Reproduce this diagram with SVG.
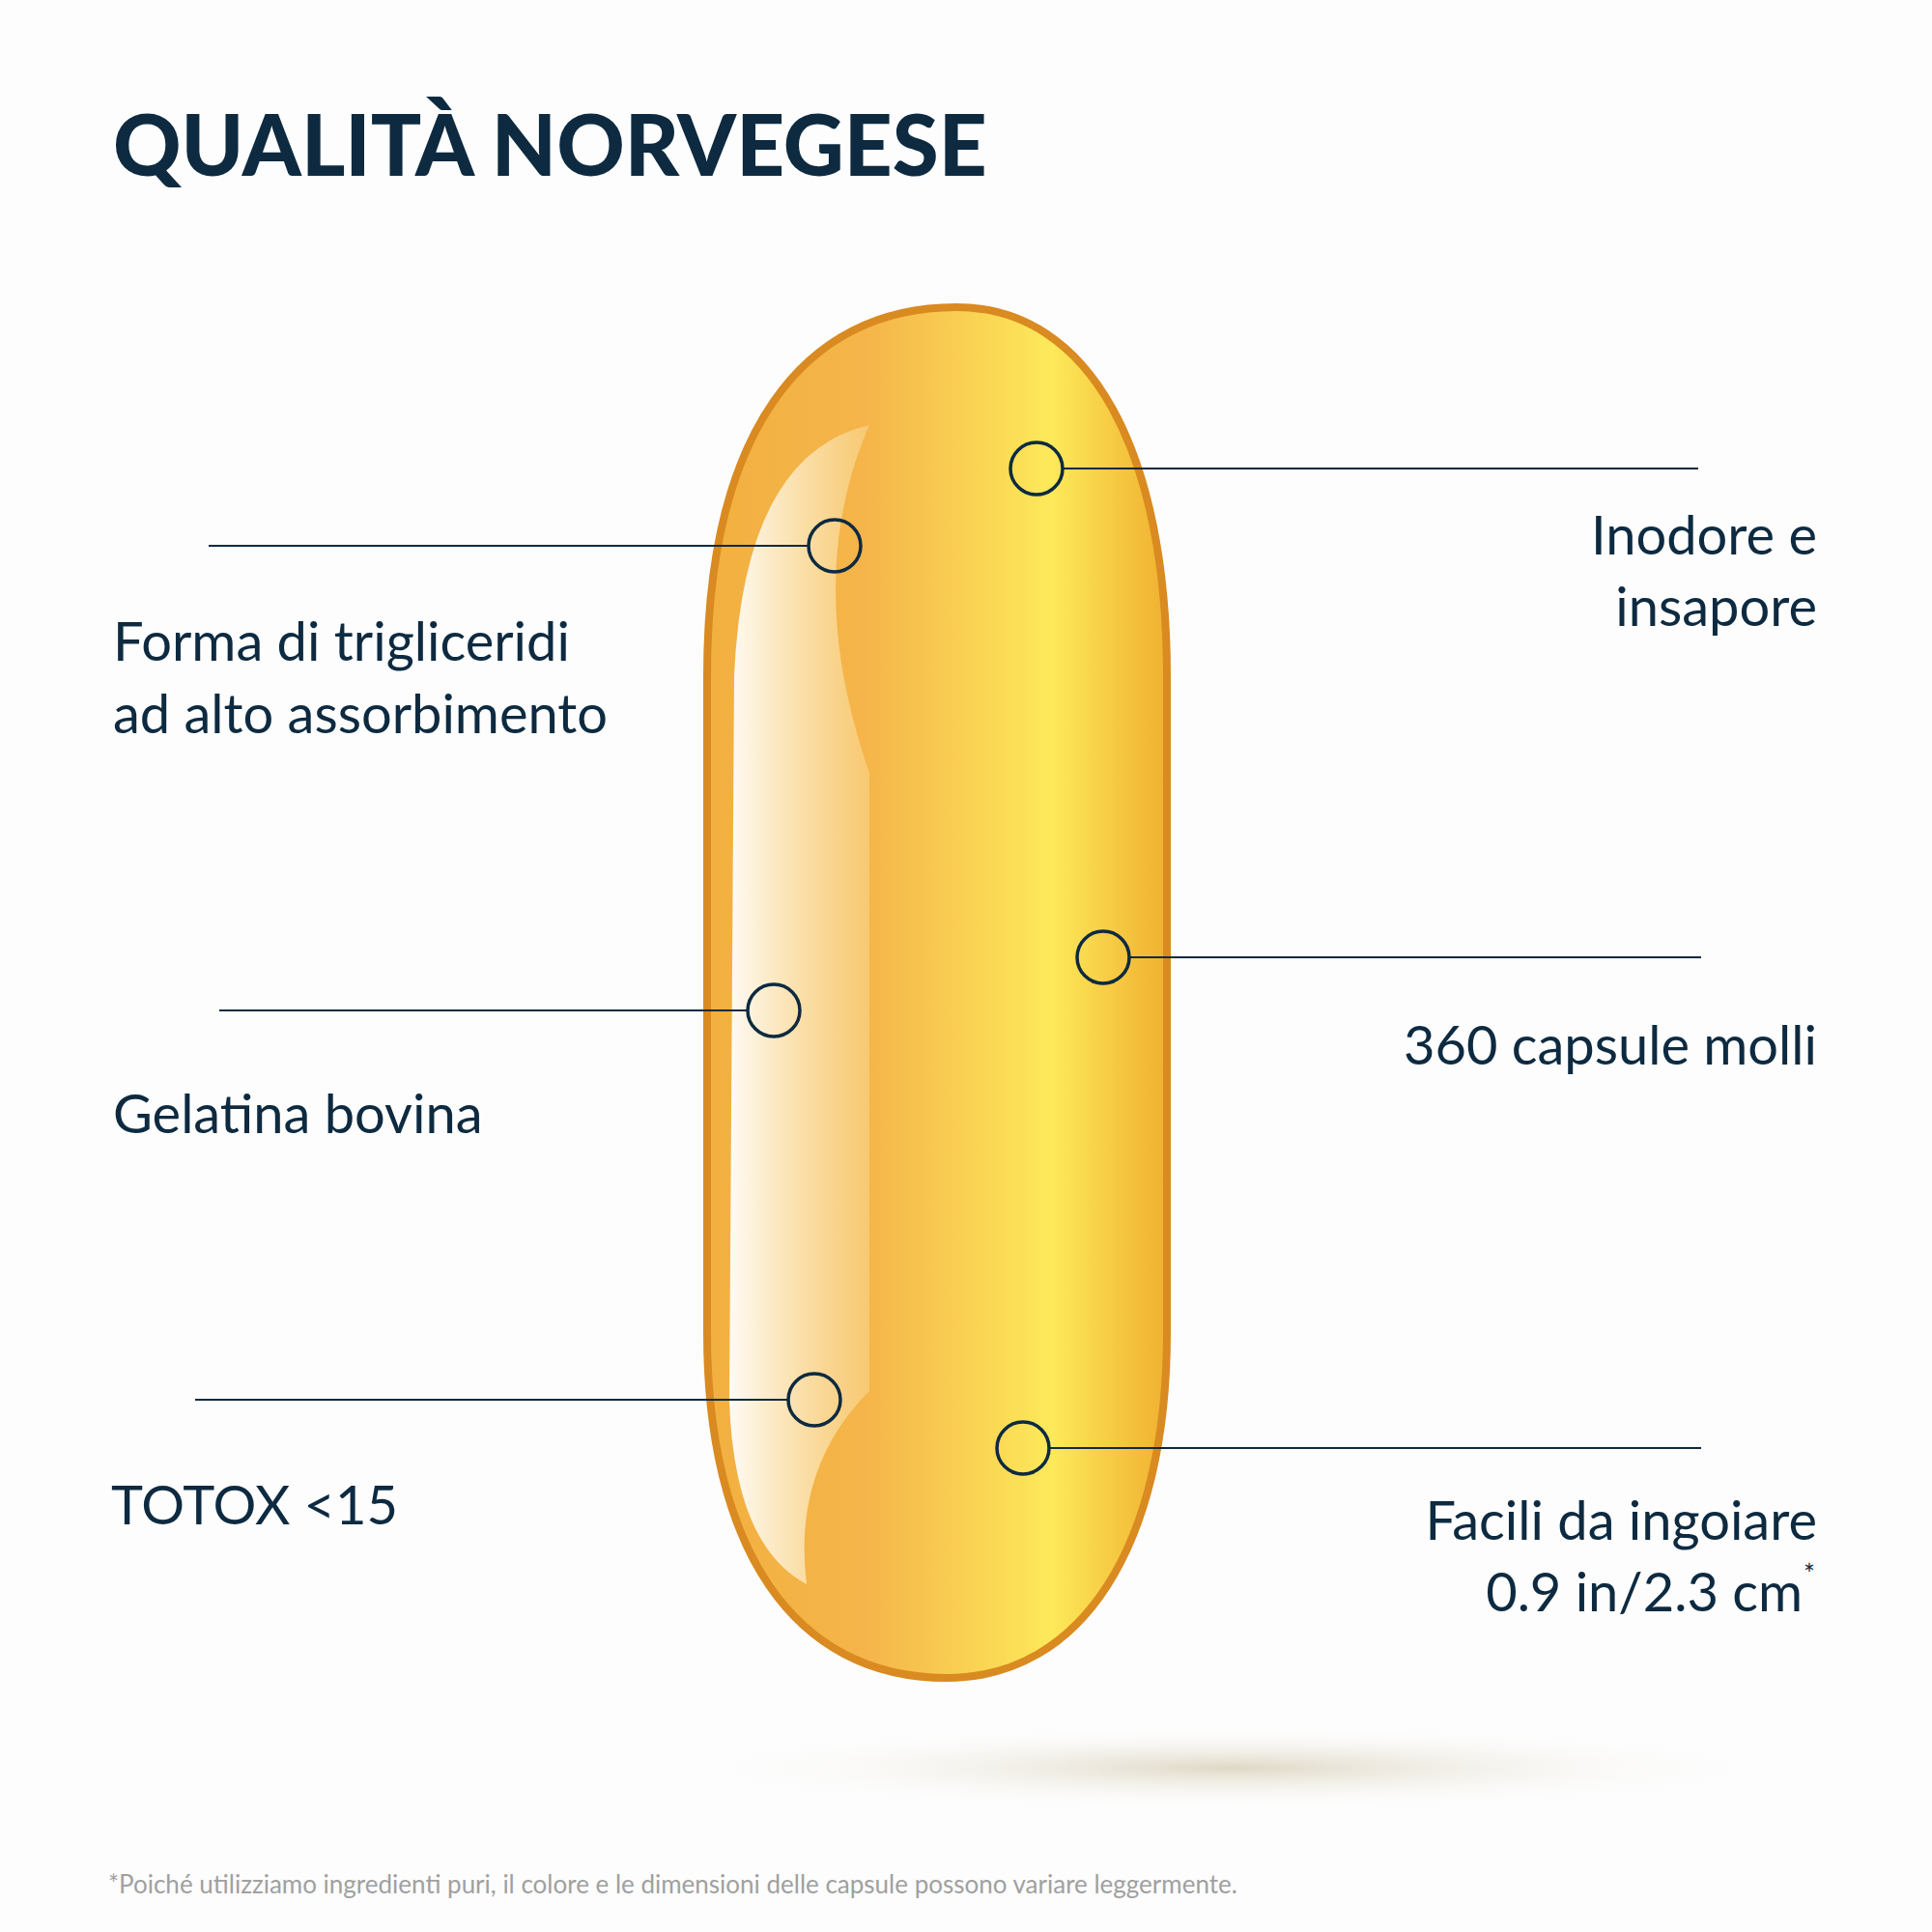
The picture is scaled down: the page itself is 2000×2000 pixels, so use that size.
<svg xmlns="http://www.w3.org/2000/svg" width="2000" height="2000" viewBox="0 0 2000 2000">
<defs>
<style>
.t{font-family:"Lato","Liberation Sans",sans-serif;font-size:56px;fill:#0d2a40}
.l{stroke:#0d2a40;stroke-width:2;fill:none}
.c{stroke:#0d2a40;stroke-width:3.5;fill:none}
</style>
<linearGradient id="g" x1="0" y1="0" x2="1" y2="0">
<stop offset="0" stop-color="#f2b040"/>
<stop offset="0.35" stop-color="#f5b54a"/>
<stop offset="0.75" stop-color="#fde95a"/>
<stop offset="1" stop-color="#f0b030"/>
</linearGradient>
<linearGradient id="h" x1="0" y1="0" x2="1" y2="0">
<stop offset="0" stop-color="#ffffff" stop-opacity="0.95"/>
<stop offset="1" stop-color="#fff6d0" stop-opacity="0.3"/>
</linearGradient>
<radialGradient id="s"><stop offset="0" stop-color="#d8cfb8" stop-opacity="0.8"/><stop offset="1" stop-color="#ffffff" stop-opacity="0"/></radialGradient>
</defs>
<rect width="2000" height="2000" fill="#fdfdfd"/>
<text x="117" y="182" style="font-family:'Lato','Liberation Sans',sans-serif;font-weight:900;font-size:87px;fill:#0d2a40">QUALITÀ NORVEGESE</text>
<ellipse cx="1275" cy="1830" rx="580" ry="45" fill="url(#s)"/>
<g id="capsule">
<path d="M732 700 C732 450 830 318 990 318 C1130 318 1208 470 1208 700 L1208 1380 C1208 1600 1120 1737 980 1737 C820 1737 732 1600 732 1380 Z" fill="url(#g)" stroke="#d98a20" stroke-width="8"/>
<path d="M760 700 Q770 470 900 440 Q830 600 900 800 L900 1440 Q820 1520 835 1640 Q760 1600 755 1450 Z" fill="url(#h)"/>
</g>
<g id="connectors">
<line class="l" x1="1100" y1="485" x2="1758" y2="485"/>
<line class="l" x1="216" y1="565" x2="837" y2="565"/>
<line class="l" x1="1169" y1="991" x2="1761" y2="991"/>
<line class="l" x1="227" y1="1046" x2="774" y2="1046"/>
<line class="l" x1="202" y1="1449" x2="816" y2="1449"/>
<line class="l" x1="1086" y1="1499" x2="1761" y2="1499"/>
</g>
<g id="n1"><circle class="c" cx="1073" cy="485" r="27"/><text class="t" x="1881" y="574" text-anchor="end">Inodore e</text><text class="t" x="1881" y="648" text-anchor="end">insapore</text></g>
<g id="n2"><circle class="c" cx="864" cy="565" r="27"/><text class="t" x="117" y="684">Forma di trigliceridi</text><text class="t" x="117" y="759">ad alto assorbimento</text></g>
<g id="n3"><circle class="c" cx="1142" cy="991" r="27"/><text class="t" x="1881" y="1102" text-anchor="end">360 capsule molli</text></g>
<g id="n4"><circle class="c" cx="801" cy="1046" r="27"/><text class="t" x="117" y="1173">Gelatina bovina</text></g>
<g id="n5"><circle class="c" cx="843" cy="1449" r="27"/><text class="t" x="115" y="1578">TOTOX &lt;15</text></g>
<g id="n6"><circle class="c" cx="1059" cy="1499" r="27"/><text class="t" x="1881" y="1594" text-anchor="end">Facili da ingoiare</text><text class="t" x="1866" y="1668" text-anchor="end">0.9 in/2.3 cm</text><text class="t" x="1867" y="1640" style="font-size:28px">*</text></g>
<text x="112" y="1960" style="font-family:'Lato','Liberation Sans',sans-serif;font-size:26px;fill:#a0a0a0">*Poiché utilizziamo ingredienti puri, il colore e le dimensioni delle capsule possono variare leggermente.</text>
</svg>
